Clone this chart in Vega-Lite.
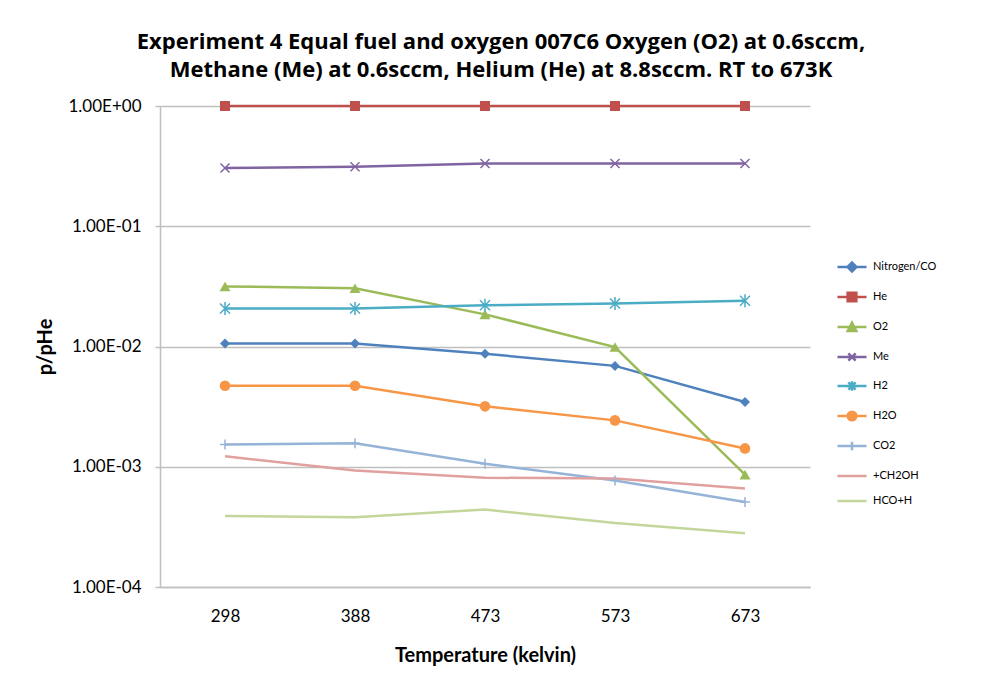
{
  "$schema": "https://vega.github.io/schema/vega-lite/v6.json",
  "width": 650,
  "height": 481,
  "autosize": {"type": "none"},
  "padding": {"left": 160, "top": 106, "right": 182, "bottom": 86},
  "background": "white",
  "title": {
    "text": ["Experiment 4 Equal fuel and oxygen 007C6 Oxygen (O2) at 0.6sccm,", "Methane (Me) at 0.6sccm, Helium (He) at 8.8sccm. RT to 673K"],
    "font": "Open Sans",
    "fontSize": 22,
    "fontWeight": "bold",
    "color": "#000000",
    "lineHeight": 28,
    "anchor": "middle",
    "dx": 16,
    "offset": 15
  },
  "config": {
    "view": {"stroke": null},
    "font": "Lato"
  },
  "data": {
    "values": [
      {"series": "Nitrogen/CO", "temp": "298", "value": 0.0106},
      {"series": "Nitrogen/CO", "temp": "388", "value": 0.0106},
      {"series": "Nitrogen/CO", "temp": "473", "value": 0.0087},
      {"series": "Nitrogen/CO", "temp": "573", "value": 0.0069},
      {"series": "Nitrogen/CO", "temp": "673", "value": 0.00345},
      {"series": "He", "temp": "298", "value": 1},
      {"series": "He", "temp": "388", "value": 1},
      {"series": "He", "temp": "473", "value": 1},
      {"series": "He", "temp": "573", "value": 1},
      {"series": "He", "temp": "673", "value": 1},
      {"series": "O2", "temp": "298", "value": 0.0316},
      {"series": "O2", "temp": "388", "value": 0.0305},
      {"series": "O2", "temp": "473", "value": 0.0185},
      {"series": "O2", "temp": "573", "value": 0.0099},
      {"series": "O2", "temp": "673", "value": 0.00086},
      {"series": "Me", "temp": "298", "value": 0.305},
      {"series": "Me", "temp": "388", "value": 0.313},
      {"series": "Me", "temp": "473", "value": 0.333},
      {"series": "Me", "temp": "573", "value": 0.333},
      {"series": "Me", "temp": "673", "value": 0.333},
      {"series": "H2", "temp": "298", "value": 0.0207},
      {"series": "H2", "temp": "388", "value": 0.0207},
      {"series": "H2", "temp": "473", "value": 0.022},
      {"series": "H2", "temp": "573", "value": 0.0228},
      {"series": "H2", "temp": "673", "value": 0.024},
      {"series": "H2O", "temp": "298", "value": 0.00472},
      {"series": "H2O", "temp": "388", "value": 0.00472},
      {"series": "H2O", "temp": "473", "value": 0.00318},
      {"series": "H2O", "temp": "573", "value": 0.00243},
      {"series": "H2O", "temp": "673", "value": 0.00142},
      {"series": "CO2", "temp": "298", "value": 0.00153},
      {"series": "CO2", "temp": "388", "value": 0.00157},
      {"series": "CO2", "temp": "473", "value": 0.00106},
      {"series": "CO2", "temp": "573", "value": 0.00077},
      {"series": "CO2", "temp": "673", "value": 0.00051},
      {"series": "+CH2OH", "temp": "298", "value": 0.00122},
      {"series": "+CH2OH", "temp": "388", "value": 0.00093},
      {"series": "+CH2OH", "temp": "473", "value": 0.00081},
      {"series": "+CH2OH", "temp": "573", "value": 0.0008},
      {"series": "+CH2OH", "temp": "673", "value": 0.00066},
      {"series": "HCO+H", "temp": "298", "value": 0.00039},
      {"series": "HCO+H", "temp": "388", "value": 0.00038},
      {"series": "HCO+H", "temp": "473", "value": 0.00044},
      {"series": "HCO+H", "temp": "573", "value": 0.00034},
      {"series": "HCO+H", "temp": "673", "value": 0.00028}
    ]
  },
  "encoding": {
    "x": {
      "field": "temp",
      "type": "ordinal",
      "sort": ["298", "388", "473", "573", "673"],
      "scale": {"type": "point", "padding": 0.5},
      "title": "Temperature (kelvin)",
      "axis": {
        "labelAngle": 0,
        "ticks": false,
        "labelPadding": 21,
        "labelFont": "Lato",
        "labelFontSize": 17,
        "labelColor": "#000000",
        "titleFont": "Lato",
        "titleFontSize": 20,
        "titleFontWeight": "bold",
        "titleColor": "#000000",
        "titlePadding": 21,
        "domain": true,
        "domainColor": "#bfbfbf",
        "domainWidth": 1.5,
        "grid": false
      }
    },
    "y": {
      "field": "value",
      "type": "quantitative",
      "scale": {"type": "log", "domain": [0.0001, 1], "nice": false},
      "title": "p/pHe",
      "axis": {
        "values": [0.0001, 0.001, 0.01, 0.1, 1],
        "labelExpr": "datum.value >= 1 ? '1.00E+00' : '1.00E-0' + round(-log(datum.value)/LN10)",
        "labelFont": "Lato",
        "labelFontSize": 17,
        "labelColor": "#000000",
        "labelPadding": 14,
        "ticks": true,
        "tickSize": 5,
        "tickColor": "#bfbfbf",
        "tickWidth": 1.5,
        "grid": true,
        "gridColor": "#bfbfbf",
        "gridWidth": 1.5,
        "domain": true,
        "domainColor": "#bfbfbf",
        "domainWidth": 1.5,
        "titleFont": "Lato",
        "titleFontSize": 20,
        "titleFontWeight": "bold",
        "titleColor": "#000000",
        "titlePadding": 13
      }
    },
    "color": {
      "field": "series",
      "type": "nominal",
      "scale": {
        "domain": ["Nitrogen/CO", "He", "O2", "Me", "H2", "H2O", "CO2", "+CH2OH", "HCO+H"],
        "range": ["#4F81BD", "#C0504D", "#9BBB59", "#8064A2", "#4BACC6", "#F79646", "#95B3D7", "#E0A09E", "#C3D69B"]
      },
      "legend": {
        "title": null,
        "orient": "none",
        "legendX": 676,
        "legendY": 145,
        "padding": 0,
        "rowPadding": 4,
        "symbolSize": 841,
        "symbolType": "M-1,0H1",
        "symbolStrokeWidth": 2.5,
        "labelOffset": 5,
        "labelFont": "Lato",
        "labelFontSize": 11,
        "labelColor": "#000000",
        "encode": {
          "symbols": {
            "update": {
              "shape": {"signal": "['M-1,0H1M-0.31,0L0,-0.31L0.31,0L0,0.31Z','M-1,0H1M-0.3,-0.3H0.3V0.3H-0.3Z','M-1,0H1M-0.3,0.28L0,-0.3L0.3,0.28Z','M-1,0H1M-0.25,-0.25L0.25,0.25M-0.25,0.25L0.25,-0.25','M-1,0H1M-0.25,-0.25L0.25,0.25M-0.25,0.25L0.25,-0.25M0,-0.32V0.32','M-1,0H1M-0.3,0A0.3,0.3 0 1,0 0.3,0A0.3,0.3 0 1,0 -0.3,0Z','M-1,0H1M0,-0.3V0.3','M-1,0H1','M-1,0H1'][indexof(['Nitrogen/CO','He','O2','Me','H2','H2O','CO2','+CH2OH','HCO+H'], datum.value)]"},
              "fill": {"signal": "scale('color', datum.value)"},
              "stroke": {"signal": "scale('color', datum.value)"},
              "strokeWidth": {"value": 2.5},
              "size": {"value": 841},
              "opacity": {"value": 1},
              "fillOpacity": {"value": 1},
              "strokeOpacity": {"value": 1}
            }
          }
        }
      }
    }
  },
  "layer": [
    {
      "mark": {"type": "line", "strokeWidth": 2.5},
      "encoding": {"detail": {"field": "series"}}
    },
    {
      "transform": [{"filter": {"field": "series", "equal": "Nitrogen/CO"}}],
      "mark": {"type": "point", "filled": true, "opacity": 1, "shape": "diamond", "size": 100}
    },
    {
      "transform": [{"filter": {"field": "series", "equal": "He"}}],
      "mark": {"type": "point", "filled": true, "opacity": 1, "shape": "square", "size": 100}
    },
    {
      "transform": [{"filter": {"field": "series", "equal": "O2"}}],
      "mark": {"type": "point", "filled": true, "opacity": 1, "shape": "triangle-up", "size": 121}
    },
    {
      "transform": [{"filter": {"field": "series", "equal": "H2O"}}],
      "mark": {"type": "point", "filled": true, "opacity": 1, "shape": "circle", "size": 113}
    },
    {
      "transform": [{"filter": {"field": "series", "equal": "Me"}}],
      "mark": {"type": "point", "filled": false, "opacity": 1, "strokeWidth": 1.5, "shape": "M-1,-1L1,1M-1,1L1,-1", "size": 81}
    },
    {
      "transform": [{"filter": {"field": "series", "equal": "H2"}}],
      "mark": {"type": "point", "filled": false, "opacity": 1, "strokeWidth": 1.5, "shape": "M-1,-1L1,1M-1,1L1,-1M0,-1.3V1.3", "size": 100}
    },
    {
      "transform": [{"filter": {"field": "series", "equal": "CO2"}}],
      "mark": {"type": "point", "filled": false, "opacity": 1, "strokeWidth": 1.5, "shape": "M-1,0H1M0,-1V1", "size": 100}
    }
  ]
}
